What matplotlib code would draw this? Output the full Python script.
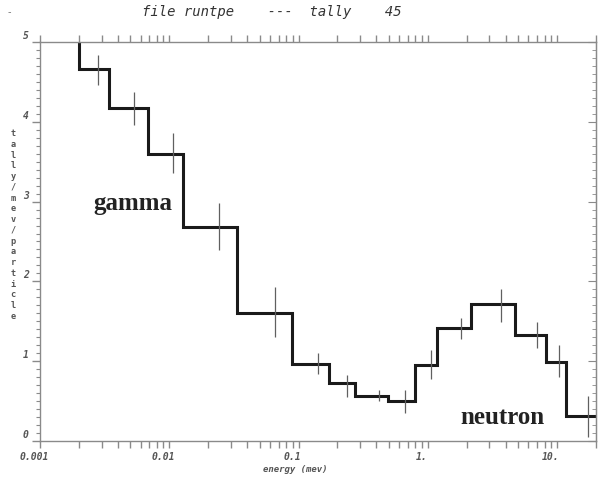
import matplotlib
matplotlib.use("Agg")
import matplotlib.pyplot as plt
import matplotlib.transforms as mtransforms
from matplotlib.ticker import FixedLocator, FixedFormatter, LogLocator, NullFormatter, MultipleLocator

# ---- data ----
bin_edges = [0.001, 0.002, 0.0034, 0.0068, 0.0127, 0.0333, 0.089, 0.173, 0.275,
             0.495, 0.789, 1.17, 2.15, 4.72, 8.2, 11.7, 20.0]
# first bin is off-scale (above the top of the plot)
tally = [5.4, 4.66, 4.17, 3.60, 2.68, 1.60, 0.96, 0.73, 0.56, 0.50,
         0.95, 1.42, 1.72, 1.33, 0.99, 0.31]
err_x = [0.00282, 0.00537, 0.0106, 0.0241, 0.0657, 0.1417, 0.238, 0.422, 0.671,
         1.05, 1.80, 3.67, 7.0, 10.4, 17.4]
err_low = [4.46, 3.96, 3.36, 2.39, 1.30, 0.84, 0.55, 0.50, 0.35, 0.78, 1.28, 1.49, 1.17, 0.80, 0.05]
err_high = [4.84, 4.37, 3.86, 2.98, 1.93, 1.10, 0.83, 0.64, 0.64, 1.14, 1.54, 1.90, 1.49, 1.20, 0.56]
x_ticks = [0.001, 0.01, 0.1, 1.0, 10.0]
x_tick_labels = ["0.001", "0.01", "0.1", "1.", "10."]
y_ticks = [0, 1, 2, 3, 4, 5]
y_tick_labels = ["0", "1", "2", "3", "4", "5"]
title = "file runtpe    ---  tally    45"
x_label = "energy (mev)"
y_label = "tally/mev/particle"

fig = plt.figure(figsize=(5.98, 4.8), dpi=100)
ax = fig.add_axes([40/598, 39/480, 556/598, (441-42)/480])

axis_col = "#8a8a8a"
mono = "DejaVu Sans Mono"

ax.stairs(tally, bin_edges, baseline=None, color="#1a1a1a", lw=2.2)
ax.vlines(err_x, err_low, err_high, color="#606060", lw=0.9)

ax.set_xscale("log")
ax.set_xlim(0.001, 20.0)
ax.set_ylim(0, 5)

for s in ax.spines.values():
    s.set_color(axis_col)
    s.set_linewidth(1.0)

ax.xaxis.set_major_locator(FixedLocator(x_ticks))
ax.xaxis.set_major_formatter(FixedFormatter(x_tick_labels))
ax.xaxis.set_minor_locator(LogLocator(base=10, subs=range(2, 10), numticks=20))
ax.xaxis.set_minor_formatter(NullFormatter())
ax.yaxis.set_major_locator(FixedLocator(y_ticks))
ax.yaxis.set_major_formatter(FixedFormatter(y_tick_labels))
ax.yaxis.set_minor_locator(MultipleLocator(0.1))

ax.tick_params(axis="x", which="both", direction="out", top=True, bottom=True,
               color=axis_col, labelcolor="#555555", labelsize=7, pad=3)
ax.tick_params(axis="x", which="major", length=5, width=1)
ax.tick_params(axis="x", which="minor", length=5, width=1)
ax.tick_params(axis="y", which="both", direction="out", left=True, right=False,
               color=axis_col, labelcolor="#555555", labelsize=7, pad=2)
ax.tick_params(axis="y", which="major", length=6, width=1)
ax.tick_params(axis="y", which="minor", length=3, width=0.8)

dx = mtransforms.ScaledTranslation(-6/100, 0, fig.dpi_scale_trans)
dy = mtransforms.ScaledTranslation(0, 7/100, fig.dpi_scale_trans)
for lab in ax.get_xticklabels():
    lab.set_family(mono)
    lab.set_style("italic")
    lab.set_weight("bold")
    lab.set_transform(lab.get_transform() + dx)
for lab in ax.get_yticklabels():
    lab.set_family(mono)
    lab.set_style("italic")
    lab.set_weight("bold")
    lab.set_transform(lab.get_transform() + dy)

sec = ax.secondary_yaxis("right")
sec.yaxis.set_major_locator(FixedLocator(y_ticks))
sec.yaxis.set_minor_locator(MultipleLocator(0.1))
sec.tick_params(which="both", direction="in", color=axis_col, labelright=False)
sec.tick_params(which="major", length=6)
sec.tick_params(which="minor", length=3)
sec.spines["right"].set_color(axis_col)

fig.text(272/598, 1 - 12/480, title, ha="center", va="center", family=mono,
         style="italic", fontsize=10, color="#333333")
fig.text(295/598, 1 - 470/480, x_label, ha="center", va="center", family=mono,
         style="italic", weight="bold", fontsize=6.5, color="#555555")
fig.text(13/598, 1 - 225/480, "\n".join(y_label), ha="center", va="center", family=mono,
         weight="bold", fontsize=6.2, color="#555555", linespacing=1.25)
fig.text(9/598, 1 - 12/480, "-", ha="center", va="center", fontsize=7, color="#777777")

ax.text(0.00258, 2.98, "gamma", family="Liberation Serif", weight="bold", fontsize=18,
        color="#222222", ha="left", va="center")
ax.text(3.81, 0.29, "neutron", family="Liberation Serif", weight="bold", fontsize=18,
        color="#222222", ha="center", va="center")

fig.savefig("out.png", dpi=100)
